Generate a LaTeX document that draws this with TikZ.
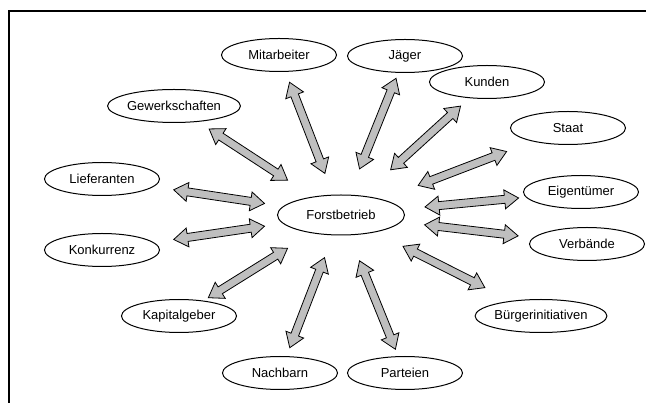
\documentclass[tikz,border=0pt]{standalone}
\usepackage{fontspec}
\setmainfont{Liberation Sans}
\usepackage{tikz}
\usetikzlibrary{calc, shapes.geometric}

\begin{document}
\begin{tikzpicture}[
  x=1pt, y=-1pt,
  every node/.style={font=\fontsize{13}{15}\selectfont},
  party/.style={ellipse, draw, line width=1pt, minimum width=115pt,
                minimum height=33pt, inner sep=0pt, align=center},
  link/.style 2 args={fill=gray!50, draw, line width=0.8pt, line join=miter,
    to path={let \p1=($(\tikztostart)!#1!(\tikztotarget)$),
                 \p2=($(\tikztostart)!#2!(\tikztotarget)$),
                 \n1={atan2(\y2-\y1,\x2-\x1)},
                 \n2={veclen(\x2-\x1,\y2-\y1)} in
      [shift={(\p1)}, rotate=\n1]
      (0,0) -- (14,9.5) -- (14,4) -- ({\n2-14},4) -- ({\n2-14},9.5)
      -- (\n2,0) -- ({\n2-14},-9.5) -- ({\n2-14},-4) -- (14,-4)
      -- (14,-9.5) -- cycle}}
]
  \useasboundingbox (0,0) rectangle (646,403);
  % frame
  \draw[line width=1.4pt] (9,403) -- (9,11) -- (646,11);

  \node[party, minimum width=127pt, minimum height=40pt] (Fb) at (341,215) {Forstbetrieb};

  \node[party] (Ma) at (279,55) {Mitarbeiter};
  \node[party] (Jg) at (405,56) {Jäger};
  \node[party] (Kd) at (487,82) {Kunden};
  \node[party, minimum width=118pt] (Gw) at (174,106) {Gewerkschaften};
  \node[party] (St) at (568,128) {Staat};
  \node[party] (Eg) at (581,192) {Eigentümer};
  \node[party] (Vb) at (587,244) {Verbände};
  \node[party] (Bi) at (541,316) {Bürgerinitiativen};
  \node[party] (Lf) at (102,179) {Lieferanten};
  \node[party] (Kk) at (102,250) {Konkurrenz};
  \node[party] (Kg) at (179,316) {Kapitalgeber};
  \node[party] (Nb) at (280,373) {Nachbarn};
  \node[party] (Pt) at (405,373) {Parteien};

  % double arrows
  \draw[link={0.26}{0.83}] (Fb) to (Ma);
  \draw[link={0.29}{0.86}] (Fb) to (Jg);
  \draw[link={0.34}{0.82}] (Fb) to (Kd);
  \draw[link={0.32}{0.79}] (Fb) to (Gw);
  \draw[link={0.34}{0.73}] (Fb) to (St);
  \draw[link={0.35}{0.74}] (Fb) to (Eg);
  \draw[link={0.34}{0.72}] (Fb) to (Vb);
  \draw[link={0.31}{0.72}] (Fb) to (Bi);
  \draw[link={0.32}{0.70}] (Fb) to (Lf);
  \draw[link={0.32}{0.70}] (Fb) to (Kk);
  \draw[link={0.33}{0.82}] (Fb) to (Kg);
  \draw[link={0.27}{0.84}] (Fb) to (Nb);
  \draw[link={0.29}{0.85}] (Fb) to (Pt);
\end{tikzpicture}
\end{document}
